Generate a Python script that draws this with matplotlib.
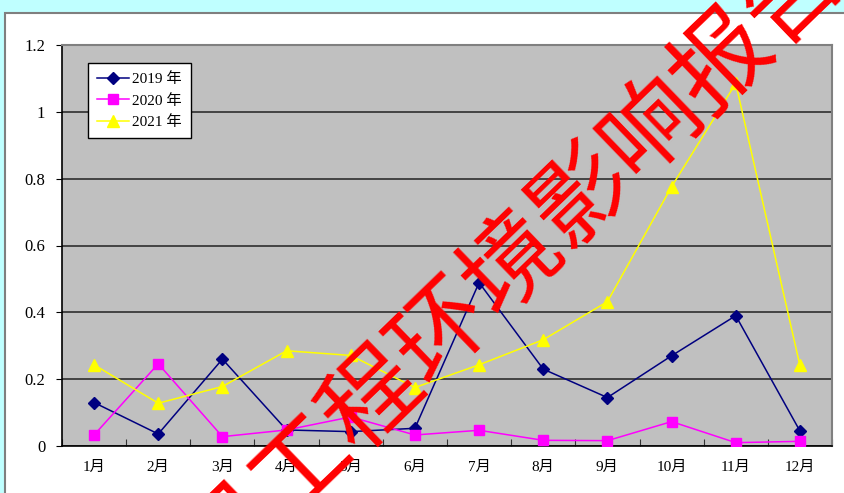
import matplotlib
matplotlib.use('Agg')
import matplotlib.pyplot as plt
from matplotlib.patches import Rectangle
from matplotlib.ticker import FixedLocator, FuncFormatter

months = ['1月', '2月', '3月', '4月', '5月', '6月',
          '7月', '8月', '9月', '10月', '11月', '12月']
y2019 = [0.130, 0.036, 0.260, 0.048, 0.043, 0.053, 0.489, 0.230, 0.145, 0.270, 0.390, 0.045]
y2020 = [0.033, 0.246, 0.028, 0.048, 0.087, 0.033, 0.047, 0.017, 0.016, 0.073, 0.010, 0.014]
y2021 = [0.243, 0.128, 0.178, 0.285, 0.271, 0.175, 0.243, 0.318, 0.432, 0.776, 1.085, 0.241]
series_names = ['2019 年', '2020 年', '2021 年']
yticks = [0, 0.2, 0.4, 0.6, 0.8, 1.0, 1.2]
watermark = '目工程环境影响报告书'

font_mix = ['Liberation Serif', 'Noto Sans CJK SC']
plt.rcParams['font.family'] = font_mix

fig = plt.figure(figsize=(8.45, 4.93), dpi=100)
fig.patch.set_facecolor('#BFFFFF')

# white sheet behind the chart
fig.patches.append(Rectangle((5 / 845, -0.1), 1.2, 1 - 13 / 493 + 0.1,
                             transform=fig.transFigure, facecolor='white',
                             edgecolor='#7F7F7F', linewidth=1.5, zorder=-10))

ax = fig.add_axes([62 / 845, 1 - 446 / 493, 770 / 845, 401 / 493])
ax.set_facecolor('#C0C0C0')

x = list(range(len(months)))
ax.plot(x, y2019, '-', color='#000080', lw=1.1, marker='D', ms=6,
        label=series_names[0], zorder=3)
ax.plot(x, y2020, '-', color='#FF00FF', lw=1.1, marker='s', ms=7,
        label=series_names[1], zorder=3)
ax.plot(x, y2021, '-', color='#FFFF00', lw=1.1, marker='^', ms=8,
        label=series_names[2], zorder=3)

ax.set_xlim(-0.5, len(months) - 0.5)
ax.set_ylim(0, 1.2)

ax.yaxis.set_major_locator(FixedLocator(yticks))
ax.yaxis.set_major_formatter(FuncFormatter(lambda v, p: ('%.1f' % v).rstrip('0').rstrip('.')))
ax.grid(axis='y', color='#222222', lw=1.1)
ax.set_axisbelow(True)

ax.set_xticks([i + 0.5 for i in range(-1, len(months))])
ax.set_xticklabels([])
ax.set_xticks(x, minor=True)
ax.set_xticklabels(months, minor=True)
ax.tick_params(axis='x', which='major', direction='in', length=5, color='#333333')
ax.tick_params(axis='x', which='minor', length=0, pad=11, labelsize=11)
ax.tick_params(axis='y', direction='out', length=4, pad=8, labelsize=12)

for side in ('top', 'right'):
    ax.spines[side].set_color('#808080')
    ax.spines[side].set_linewidth(1.5)
for side in ('left', 'bottom'):
    ax.spines[side].set_color('black')
    ax.spines[side].set_linewidth(1.2)

lgd = ax.legend(loc='upper left', bbox_to_anchor=(0.034, 0.955), borderaxespad=0,
                fancybox=False, framealpha=1, edgecolor='black', fontsize=11,
                handlelength=2.1, handletextpad=0.15, labelspacing=0.5,
                borderpad=0.6, markerscale=1.1)
lgd.get_frame().set_linewidth(1.0)

# diagonal stamp text over the whole sheet
fig.text(545 / 845, 1 - 222 / 493, watermark, color='red', fontsize=70,
         family=['Noto Sans CJK SC', 'DejaVu Sans'], weight='normal',
         rotation=44, rotation_mode='anchor', ha='center', va='center', zorder=10)

fig.savefig('out.png', dpi=100, facecolor=fig.get_facecolor())
